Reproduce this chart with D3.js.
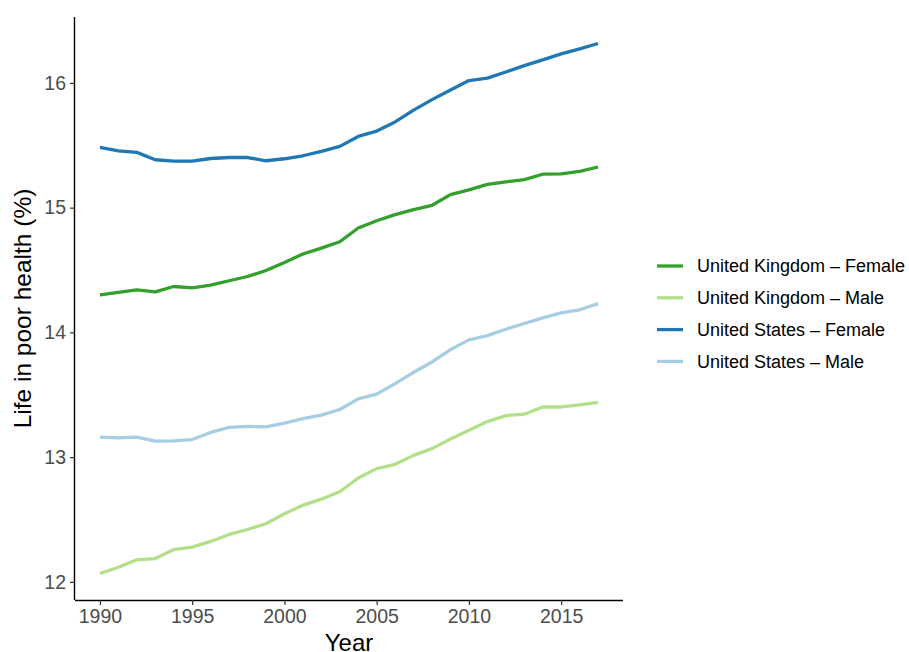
<!DOCTYPE html>
<html>
<head>
<meta charset="utf-8">
<script src="https://cdn.jsdelivr.net/npm/d3@7"></script>
<style>
  body { margin: 0; background: #fff; }
  svg { font-family: "Liberation Sans", Arial, Helvetica, sans-serif; }
</style>
</head>
<body>
<div id="chart"></div>
<script>
const years = d3.range(1990, 2018);

const ukFemale = [14.30, 14.32, 14.34, 14.325, 14.368, 14.357, 14.379, 14.414, 14.448, 14.496,
    14.561, 14.628, 14.676, 14.727, 14.837, 14.895, 14.944, 14.984, 15.019, 15.104,
    15.142, 15.187, 15.206, 15.225, 15.268, 15.27, 15.291, 15.326];
const ukMale = [12.067, 12.117, 12.177, 12.187, 12.259, 12.278, 12.324, 12.38, 12.42, 12.466,
    12.546, 12.615, 12.663, 12.722, 12.833, 12.908, 12.942, 13.014, 13.068, 13.145,
    13.215, 13.285, 13.333, 13.344, 13.402, 13.402, 13.418, 13.438];
const usFemale = [15.483, 15.456, 15.443, 15.384, 15.373, 15.373, 15.394, 15.402, 15.402, 15.376,
    15.392, 15.416, 15.451, 15.491, 15.571, 15.614, 15.687, 15.782, 15.866, 15.943,
    16.019, 16.038, 16.088, 16.139, 16.185, 16.233, 16.273, 16.316];
const usMale = [13.161, 13.155, 13.161, 13.129, 13.131, 13.141, 13.198, 13.238, 13.246, 13.243,
    13.273, 13.308, 13.337, 13.382, 13.467, 13.505, 13.589, 13.68, 13.763, 13.862,
    13.94, 13.974, 14.025, 14.071, 14.116, 14.157, 14.181, 14.231];

const seriesNames = ["United Kingdom \u2013 Female", "United Kingdom \u2013 Male",
    "United States \u2013 Female", "United States \u2013 Male"];
const seriesValues = [ukFemale, ukMale, usFemale, usMale];
const colors = ["#33a02c", "#b2df8a", "#1f78b4", "#a6cee3"];

const xTicks = [1990, 1995, 2000, 2005, 2010, 2015];
const yTicks = [12, 13, 14, 15, 16];

const width = 909;
const height = 652;
const plotLeft = 75, plotRight = 623, plotTop = 17, plotBottom = 600;

const svg = d3.select("#chart")
    .append("svg")
    .attr("width", width)
    .attr("height", height);

// ggplot-style 5% expansion
const xExt = d3.extent(years);
const xPad = (xExt[1] - xExt[0]) * 0.05;
const x = d3.scaleLinear()
    .domain([xExt[0] - xPad, xExt[1] + xPad])
    .range([plotLeft, plotRight]);

const allVals = seriesValues.flat();
const yExt = d3.extent(allVals);
const yPad = (yExt[1] - yExt[0]) * 0.05;
const y = d3.scaleLinear()
    .domain([yExt[0] - yPad, yExt[1] + yPad])
    .range([plotBottom, plotTop]);

const line = d3.line()
    .x((d, i) => x(years[i]))
    .y(d => y(d));

svg.selectAll("path.series")
    .data(seriesValues)
    .enter()
    .append("path")
    .attr("class", "series")
    .attr("d", d => line(d))
    .attr("fill", "none")
    .attr("stroke", (d, i) => colors[i])
    .attr("stroke-width", 3.3)
    .attr("stroke-linejoin", "round");

// axes
const xAxis = svg.append("g")
    .attr("transform", `translate(0,${plotBottom})`)
    .call(d3.axisBottom(x).tickValues(xTicks).tickFormat(d3.format("d")).tickSize(5).tickPadding(4));

const yAxis = svg.append("g")
    .attr("transform", `translate(${plotLeft},0)`)
    .call(d3.axisLeft(y).tickValues(yTicks).tickFormat(d3.format("d")).tickSize(5).tickPadding(4));

[xAxis, yAxis].forEach(g => {
    g.select(".domain").attr("stroke", "#000").attr("stroke-width", 1.4);
    g.selectAll(".tick line").attr("stroke", "#333").attr("stroke-width", 1.2);
    g.selectAll(".tick text")
        .attr("fill", "#4d4d4d")
        .style("font-size", "19.5px")
        .style("font-family", "Liberation Sans, Arial, sans-serif");
});
xAxis.select(".domain").attr("d", `M${plotLeft},0.5H${plotRight}`);
yAxis.select(".domain").attr("d", `M-0.5,${plotTop}V${plotBottom}`);

// axis titles
svg.append("text")
    .attr("x", (plotLeft + plotRight) / 2)
    .attr("y", 650.5)
    .attr("text-anchor", "middle")
    .style("font-size", "24px")
    .attr("fill", "#000")
    .text("Year");

svg.append("text")
    .attr("transform", `translate(30.5,${(plotTop + plotBottom) / 2}) rotate(-90)`)
    .attr("text-anchor", "middle")
    .style("font-size", "24.5px")
    .attr("fill", "#000")
    .text("Life in poor health (%)");

// legend
const legend = svg.append("g").attr("transform", "translate(657,266)");
const rows = legend.selectAll("g")
    .data(seriesNames)
    .enter()
    .append("g")
    .attr("transform", (d, i) => `translate(0,${i * 31.8})`);

rows.append("line")
    .attr("x1", 0)
    .attr("x2", 26)
    .attr("stroke", (d, i) => colors[i])
    .attr("stroke-width", 3.3);

rows.append("text")
    .attr("x", 40)
    .attr("dy", "0.35em")
    .style("font-size", "18px")
    .attr("fill", "#000")
    .text(d => d);
</script>
</body>
</html>
